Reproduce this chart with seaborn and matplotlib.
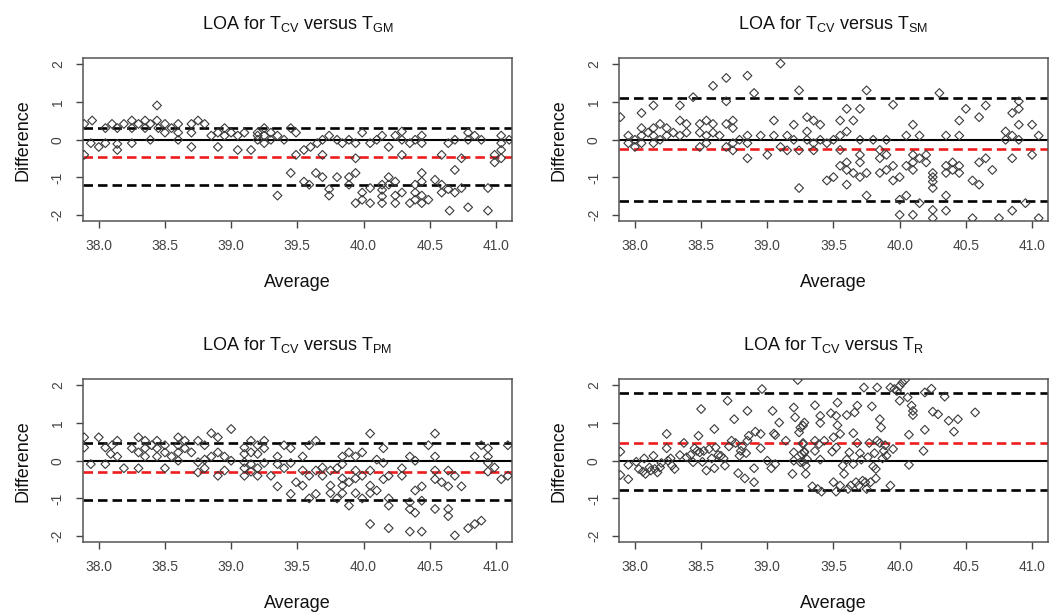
import matplotlib
matplotlib.use("Agg")
import matplotlib.pyplot as plt
import seaborn as sns

# --- data ---
# panel 1: T_CV vs T_GM
gm_avg = [37.89, 37.95, 37.94, 38.00, 38.05, 38.05, 38.10, 38.14, 38.14, 38.14, 38.19, 38.25, 38.25, 38.25,
          38.30, 38.35, 38.35, 38.39, 38.39, 38.44, 38.44, 38.45, 38.50, 38.50, 38.55, 38.60, 38.60, 38.60,
          38.70, 38.70, 38.70, 38.75, 38.80, 38.85, 38.90, 38.90, 38.95, 38.95, 39.00, 39.05, 39.05, 39.10,
          39.15, 39.20, 39.20, 39.20, 39.25, 39.25, 39.25, 39.30, 39.30, 39.35, 39.35, 39.40, 39.45, 39.45,
          39.49, 39.49, 37.89, 39.55, 39.60, 39.65, 39.69, 39.74, 39.69, 39.64, 39.69, 39.55, 39.59, 39.74,
          39.74, 39.80, 39.80, 39.84, 39.89, 39.89, 39.89, 39.94, 39.94, 39.94, 39.94, 39.99, 39.99, 39.99,
          40.05, 40.05, 40.05, 40.10, 40.14, 40.14, 40.14, 40.14, 40.14, 40.19, 40.19, 40.19, 40.24, 40.24,
          40.24, 40.24, 40.29, 40.29, 40.29, 40.29, 40.35, 40.35, 40.39, 40.39, 40.39, 40.39, 40.44, 40.44,
          40.44, 40.44, 40.44, 40.44, 40.49, 40.54, 40.59, 40.59, 40.59, 40.64, 40.64, 40.65, 40.69, 40.69,
          40.69, 40.74, 40.74, 40.79, 40.79, 40.79, 40.84, 40.89, 40.94, 40.94, 40.99, 40.99, 41.04, 41.04,
          41.04, 41.04, 41.10]
gm_diff = [0.42, 0.51, -0.09, -0.19, -0.09, 0.31, 0.42, 0.31, -0.11, -0.27, 0.42, 0.51, -0.09, 0.31,
           0.42, 0.51, 0.31, 0.42, 0.00, 0.91, 0.51, 0.31, 0.42, 0.19, 0.31, 0.42, 0.19, 0.00,
           0.42, 0.19, -0.19, 0.51, 0.42, 0.11, 0.19, -0.19, 0.31, 0.11, 0.19, 0.11, -0.27, 0.19,
           -0.27, 0.11, 0.00, 0.19, 0.31, 0.11, -0.09, 0.19, 0.00, 0.11, -1.48, 0.00, 0.31, -0.88,
           0.19, -0.40, -0.40, -0.27, -0.19, -0.09, 0.00, 0.11, -0.40, -0.88, -0.99, -1.11, -1.19, -1.31,
           -1.48, 0.00, -0.99, -0.09, 0.00, -0.99, -1.19, -0.09, -0.49, -0.88, -1.68, 0.19, -1.40, -1.59,
           -0.09, -1.28, -1.68, 0.00, 0.11, -1.19, -1.33, -1.50, -1.68, -0.19, -0.99, -1.19, 0.11, -1.11,
           -1.48, -1.68, 0.22, 0.00, -0.40, -1.40, -0.09, -1.68, 0.00, -1.19, -1.40, -1.59, 0.11, -0.09,
           -0.88, -1.11, -1.48, -1.68, -1.59, -1.06, -0.40, -1.19, -1.40, -0.09, -1.31, -1.88, 0.00, -0.80,
           -1.40, -0.49, -1.28, 0.19, 0.00, -1.79, 0.11, 0.00, -1.28, -1.88, -0.40, -0.60, 0.11, -0.09,
           -0.27, -0.49, 0.00]

# panel 2: T_CV vs T_SM
sm_avg = [37.89, 37.95, 37.95, 38.00, 38.00, 38.05, 38.05, 38.05, 38.05, 38.10, 38.14, 38.14, 38.14, 38.14,
          38.19, 38.19, 38.24, 38.24, 38.29, 38.34, 38.34, 38.34, 38.39, 38.39, 38.44, 38.49, 38.49, 38.49,
          38.54, 38.54, 38.54, 38.59, 38.59, 38.59, 38.64, 38.69, 38.69, 38.69, 38.69, 38.74, 38.74, 38.74,
          38.74, 38.79, 38.85, 38.85, 38.85, 38.85, 38.90, 38.95, 39.00, 39.05, 39.05, 39.10, 39.10, 39.15,
          39.15, 39.20, 39.20, 39.24, 39.24, 39.24, 39.30, 39.30, 39.30, 39.35, 39.35, 39.35, 39.40, 39.40,
          39.45, 39.45, 39.50, 39.50, 39.55, 39.55, 39.55, 39.55, 39.60, 39.60, 39.60, 39.60, 39.60, 39.65,
          39.65, 39.70, 39.70, 39.70, 39.70, 39.70, 39.75, 39.75, 39.75, 39.80, 39.85, 39.85, 39.85, 39.90,
          39.90, 39.90, 39.95, 39.95, 39.95, 40.00, 40.00, 40.00, 40.05, 40.05, 40.05, 40.10, 40.10, 40.10,
          40.10, 40.10, 40.15, 40.15, 40.15, 40.20, 40.20, 40.25, 40.25, 40.25, 40.25, 40.25, 40.25, 40.30,
          40.35, 40.35, 40.35, 40.35, 40.35, 40.40, 40.40, 40.45, 40.45, 40.45, 40.45, 40.50, 40.55, 40.60,
          40.60, 40.60, 40.55, 40.65, 40.65, 40.70, 40.75, 40.80, 40.80, 40.85, 40.85, 40.85, 40.85, 40.90,
          40.90, 40.90, 40.90, 40.95, 41.00, 41.00, 41.05, 41.05]
sm_diff = [0.60, 0.11, -0.09, 0.00, -0.19, 0.71, 0.31, 0.11, -0.09, 0.19, 0.91, 0.31, 0.11, -0.09,
           0.42, 0.00, 0.31, 0.11, 0.19, 0.91, 0.51, 0.11, 0.42, 0.19, 1.13, 0.42, 0.19, -0.19,
           0.51, 0.11, -0.09, 1.43, 0.42, 0.19, 0.11, 1.64, 1.02, 0.42, -0.19, 0.51, 0.31, -0.09,
           -0.28, 0.00, 1.70, 0.11, -0.09, -0.49, 1.24, 0.11, -0.40, 0.51, 0.11, 2.02, -0.19, 0.11,
           -0.28, 0.40, 0.00, 1.31, -0.28, -1.28, 0.60, 0.22, 0.00, 0.51, -0.09, -0.28, 0.40, 0.00,
           -0.09, -1.08, 0.00, -0.99, 0.51, 0.11, -0.27, -0.69, 0.82, 0.22, -0.60, -0.80, -1.19, 0.51,
           -0.88, 0.82, 0.00, -0.40, -0.60, -0.99, 1.31, -0.88, -1.48, 0.00, -0.27, -0.49, -0.88, 0.00,
           -0.40, -0.80, 0.93, -0.69, -1.08, -0.99, -1.59, -1.99, 0.11, -0.69, -1.48, 0.40, -0.40, -0.60,
           -0.80, -1.99, 0.11, -0.49, -1.68, -0.40, -0.60, -0.88, -0.99, -1.11, -1.28, -1.86, -2.08, 1.24,
           0.11, -0.69, -0.88, -1.48, -1.88, -0.60, -0.80, 0.51, 0.11, -0.69, -0.88, 0.82, -1.08, 0.60,
           -0.60, -1.19, -2.08, 0.91, -0.49, -0.80, -2.08, 0.22, 0.00, 0.71, 0.11, -0.49, -1.88, 1.02,
           0.82, 0.40, 0.00, -1.68, 0.40, -0.40, 0.11, -2.08]

# panel 3: T_CV vs T_PM
pm_avg = [37.89, 37.89, 37.94, 38.00, 38.05, 38.05, 38.10, 38.09, 38.14, 38.14, 38.19, 38.25, 38.30, 38.30,
          38.30, 38.35, 38.35, 38.35, 38.40, 38.44, 38.44, 38.44, 38.50, 38.50, 38.50, 38.55, 38.60, 38.60,
          38.60, 38.60, 38.65, 38.65, 38.70, 38.75, 38.75, 38.75, 38.80, 38.80, 38.80, 38.85, 38.85, 38.90,
          38.90, 38.90, 38.95, 38.95, 39.00, 39.00, 39.10, 39.10, 39.10, 39.10, 39.10, 39.15, 39.15, 39.15,
          39.15, 39.20, 39.20, 39.20, 39.20, 39.25, 39.25, 39.25, 39.30, 39.35, 39.35, 39.35, 39.40, 39.40,
          39.45, 39.45, 39.45, 39.49, 39.54, 39.54, 39.54, 39.59, 39.59, 39.59, 39.64, 39.64, 39.64, 39.69,
          39.69, 39.75, 39.75, 39.75, 39.80, 39.80, 39.84, 39.84, 39.84, 39.84, 39.84, 39.89, 39.89, 39.89,
          39.94, 39.94, 39.94, 39.94, 39.99, 39.99, 39.99, 40.05, 40.05, 40.05, 40.05, 40.05, 40.10, 40.10,
          40.15, 40.15, 40.15, 40.19, 40.19, 40.19, 40.19, 40.29, 40.29, 40.35, 40.35, 40.35, 40.35, 40.39,
          40.39, 40.39, 40.44, 40.44, 40.44, 40.49, 40.54, 40.54, 40.54, 40.54, 40.54, 40.59, 40.64, 40.64,
          40.64, 40.64, 40.69, 40.69, 40.74, 40.79, 40.84, 40.84, 40.89, 40.89, 40.94, 40.94, 40.94, 40.94,
          40.99, 41.04, 41.09, 41.09]
pm_diff = [0.62, 0.35, -0.09, 0.62, 0.35, -0.09, 0.41, 0.18, 0.53, 0.11, -0.20, 0.33, 0.62, 0.22,
           -0.20, 0.53, 0.33, 0.11, 0.41, 0.53, 0.33, 0.11, 0.41, 0.22, -0.20, 0.11, 0.62, 0.41,
           0.22, 0.00, 0.53, 0.33, 0.22, 0.53, -0.04, -0.31, 0.41, 0.03, -0.20, 0.73, 0.11, 0.62,
           0.22, -0.40, 0.11, -0.26, 0.84, 0.00, 0.35, 0.18, -0.04, -0.20, -0.40, 0.53, 0.22, -0.09,
           -0.29, 0.41, 0.18, -0.20, -0.40, 0.53, 0.33, -0.06, -0.40, 0.11, -0.09, -0.68, 0.41, -0.20,
           0.33, -0.06, -0.88, -0.57, 0.11, -0.26, -0.66, 0.41, -0.40, -1.00, 0.53, -0.26, -0.88, -0.18,
           -0.40, -0.26, -0.66, -0.86, -0.20, -1.00, 0.11, -0.09, -0.47, -0.66, -0.86, 0.22, -0.57, -1.19,
           0.11, -0.26, -0.47, -0.86, 0.22, -0.40, -1.00, 0.72, -0.26, -0.66, -0.86, -1.68, 0.03, -0.79,
           0.33, -0.06, -0.49, -0.40, -1.00, -1.19, -1.79, -0.20, -0.40, 0.11, -1.10, -1.28, -1.88, 0.00,
           -0.79, -1.38, -0.68, -1.06, -1.88, 0.41, 0.72, 0.11, -0.26, -0.49, -1.28, -0.57, -0.26, -0.68,
           -1.28, -1.47, -0.40, -1.98, -0.68, -1.79, 0.11, -1.68, -1.59, 0.41, 0.33, 0.11, -0.06, -0.29,
           -0.18, -0.49, 0.41, -0.40]

# panel 4: T_CV vs T_R
r_avg = [37.89, 37.89, 37.95, 37.95, 38.01, 38.03, 38.06, 38.07, 38.08, 38.11, 38.12, 38.14, 38.15, 38.17,
         38.19, 38.20, 38.24, 38.24, 38.25, 38.27, 38.28, 38.30, 38.34, 38.37, 38.39, 38.42, 38.44, 38.45,
         38.48, 38.47, 38.49, 38.50, 38.51, 38.52, 38.54, 38.56, 38.58, 38.60, 38.60, 38.61, 38.63, 38.65,
         38.67, 38.68, 38.70, 38.71, 38.73, 38.75, 38.76, 38.78, 38.79, 38.80, 38.81, 38.83, 38.84, 38.85,
         38.85, 38.86, 38.90, 38.90, 38.91, 38.95, 38.95, 38.96, 39.00, 39.03, 39.04, 39.05, 39.06, 39.06,
         39.09, 39.14, 39.19, 39.20, 39.20, 39.21, 39.23, 39.24, 39.25, 39.27, 39.28, 39.28, 39.29, 39.20,
         39.25, 39.30, 39.27, 39.26, 39.28, 39.27, 39.27, 39.29, 39.34, 39.36, 39.36, 39.36, 39.38, 39.39,
         39.40, 39.40, 39.40, 39.41, 39.43, 39.48, 39.49, 39.50, 39.50, 39.52, 39.52, 39.52, 39.53, 39.53,
         39.55, 39.55, 39.57, 39.58, 39.60, 39.60, 39.61, 39.62, 39.63, 39.65, 39.65, 39.66, 39.67, 39.68,
         39.68, 39.69, 39.70, 39.71, 39.72, 39.73, 39.74, 39.75, 39.76, 39.77, 39.78, 39.79, 39.80, 39.81,
         39.82, 39.82, 39.83, 39.83, 39.85, 39.85, 39.86, 39.87, 39.88, 39.89, 39.90, 39.93, 39.93, 39.95,
         39.96, 39.98, 40.00, 40.00, 40.02, 40.04, 40.06, 40.07, 40.07, 40.09, 40.10, 40.10, 40.18, 40.19,
         40.19, 40.24, 40.25, 40.29, 40.34, 40.37, 40.41, 40.44, 40.57]
r_diff = [0.24, -0.38, -0.49, -0.11, -0.03, -0.22, -0.29, 0.06, -0.35, -0.18, -0.26, 0.13, -0.22, -0.31,
          -0.18, -0.06, 0.71, 0.33, 0.00, 0.06, -0.13, -0.22, 0.15, 0.47, 0.09, 0.15, -0.04, 0.33,
          0.66, 0.26, 0.22, 1.37, -0.03, 0.26, -0.26, 0.31, 0.06, 0.84, -0.20, 0.35, 0.15, 0.13,
          0.06, -0.13, 1.59, 0.38, 0.53, 1.10, 0.47, -0.33, 0.13, 0.26, 0.38, -0.47, 0.20, 1.32,
          0.53, 0.66, -0.57, -0.20, 0.77, 0.33, 0.71, 1.90, 0.00, -0.20, 1.32, 0.72, 0.68, -0.09,
          1.01, 0.53, -0.35, 1.41, 0.22, 1.15, 2.14, 0.75, 0.88, 0.44, 1.01, 0.22, -0.35, 0.00,
          -0.04, 0.04, 0.93, 0.18, 0.24, 0.47, -0.03, -0.13, -0.68, 1.47, 0.53, 0.26, -0.75, 0.44,
          0.03, 1.00, 1.19, -0.82, 0.53, 1.26, 0.24, 0.62, -0.57, 1.19, 0.35, -0.82, 0.94, 1.54,
          0.71, -0.66, -0.13, -0.35, 0.03, 1.21, -0.75, 0.22, -0.66, 0.73, -0.09, 1.28, -0.57, 1.46,
          0.47, -0.66, 0.20, 0.03, -0.53, 1.94, -0.57, -0.75, 0.09, 0.47, -0.57, 1.44, -0.15, 0.20,
          -0.22, -0.47, 1.94, 0.53, 1.10, 0.47, 0.88, 0.06, 0.26, 0.41, 0.13, -0.66, 1.94, 0.31,
          1.90, 1.85, 1.98, 1.59, 2.07, 2.14, 1.68, 0.69, -0.11, 1.46, 1.21, 1.32, 0.26, 1.81,
          0.82, 1.91, 1.30, 1.23, 1.70, 1.06, 0.77, 1.10, 1.28]

titles = [r"LOA for T$_{CV}$ versus T$_{GM}$", r"LOA for T$_{CV}$ versus T$_{SM}$",
          r"LOA for T$_{CV}$ versus T$_{PM}$", r"LOA for T$_{CV}$ versus T$_{R}$"]
# lower limit, mean difference (bias), upper limit
limits = [(-1.19, -0.45, 0.31), (-1.63, -0.25, 1.12), (-1.04, -0.31, 0.46), (-0.79, 0.48, 1.79)]
x_ticks = [38.0, 38.5, 39.0, 39.5, 40.0, 40.5, 41.0]
y_ticks = [-2, -1, 0, 1, 2]

sns.set_style("ticks")
plt.rcParams["font.family"] = ["Liberation Sans", "DejaVu Sans"]
plt.rcParams["mathtext.default"] = "regular"

fig, axes = plt.subplots(2, 2, figsize=(10.49, 6.14), dpi=100)
fig.subplots_adjust(left=0.079, right=0.999, top=0.905, bottom=0.117, wspace=0.25, hspace=0.97)

panels = [(gm_avg, gm_diff), (sm_avg, sm_diff), (pm_avg, pm_diff), (r_avg, r_diff)]

for ax, (avg, diff), title, (lo, bias, hi) in zip(axes.flat, panels, titles, limits):
    sns.scatterplot(x=avg, y=diff, ax=ax, marker="D", s=20, facecolor="none",
                    edgecolor="#3a3a3a", linewidth=0.8, zorder=3)
    ax.axhline(0, color="black", lw=1.5, zorder=2)
    ax.axhline(hi, color="black", lw=1.9, ls=(0, (3.6, 1.9)), zorder=2)
    ax.axhline(lo, color="black", lw=1.9, ls=(0, (3.6, 1.9)), zorder=2)
    ax.axhline(bias, color="#ee1c1c", lw=1.9, ls=(0, (3.6, 1.9)), zorder=2)

    ax.set_xlim(37.88, 41.12)
    ax.set_ylim(-2.16, 2.16)
    ax.set_xticks(x_ticks)
    ax.set_xticklabels([f"{t:.1f}" for t in x_ticks])
    ax.set_yticks(y_ticks)
    ax.set_yticklabels([str(t) for t in y_ticks], rotation=90, va="center")
    ax.tick_params(direction="out", length=5, width=1, color="#444444",
                   labelsize=10, labelcolor="#444444", pad=8)
    for sp in ax.spines.values():
        sp.set_visible(True)
        sp.set_color("#555555")
        sp.set_linewidth(1.1)

    ax.set_title(title, fontsize=13, pad=21, color="#111111")
    ax.set_xlabel("Average", fontsize=13, labelpad=15, color="#111111")
    ax.set_ylabel("Difference", fontsize=13, labelpad=14, color="#111111")

fig.savefig("out.png", dpi=100)
